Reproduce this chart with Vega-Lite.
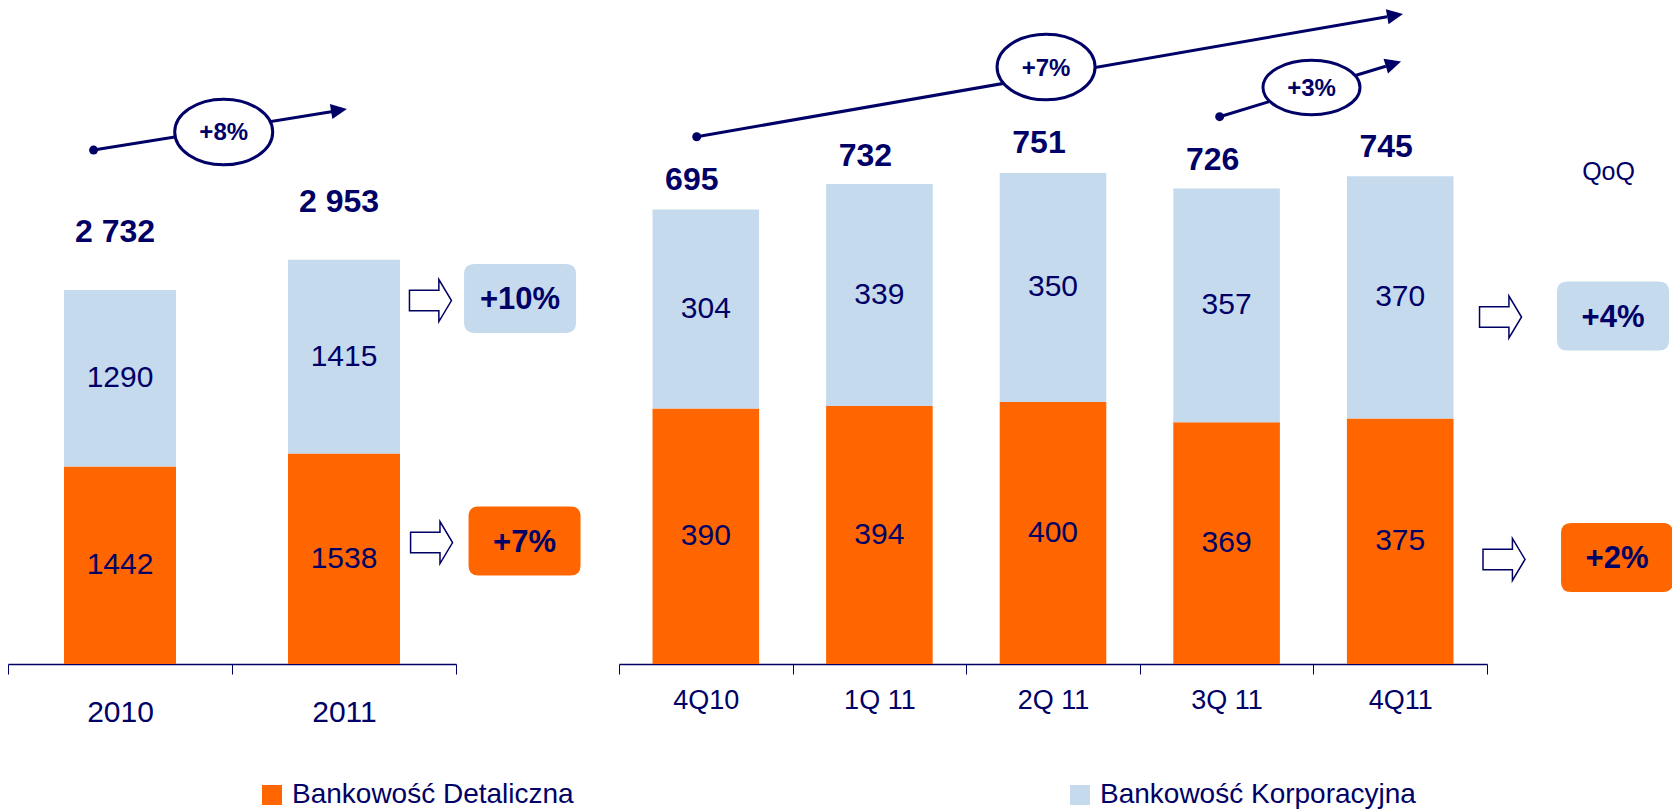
{
  "$schema": "https://vega.github.io/schema/vega-lite/v6.json",
  "padding": {"left": 7, "top": 0, "right": 0, "bottom": 0},
  "background": "white",
  "bounds": "flush",
  "spacing": 163,
  "config": {
    "view": {"stroke": null},
    "font": "Liberation Sans",
    "locale": {"number": {"decimal": ",", "thousands": " ", "grouping": [3], "currency": ["", " zł"]}},
    "axisX": {"title": null, "tickBand": "extent", "tickSize": 10, "tickColor": "#000066", "tickWidth": 1,
      "domainColor": "#000066", "domainWidth": 1.5, "labelColor": "#000066", "labelAngle": 0,
      "labelFont": "Liberation Sans", "grid": false}
  },
  "datasets": {
    "annual": [
      {"period": "2010", "segment": "Bankowość Detaliczna", "value": 1442},
      {"period": "2010", "segment": "Bankowość Korporacyjna", "value": 1290},
      {"period": "2011", "segment": "Bankowość Detaliczna", "value": 1538},
      {"period": "2011", "segment": "Bankowość Korporacyjna", "value": 1415}
    ],
    "annualTotals": [
      {"period": "2010", "total": 2732},
      {"period": "2011", "total": 2953}
    ],
    "quarterly": [
      {"period": "4Q10", "segment": "Bankowość Detaliczna", "value": 390},
      {"period": "4Q10", "segment": "Bankowość Korporacyjna", "value": 304},
      {"period": "1Q 11", "segment": "Bankowość Detaliczna", "value": 394},
      {"period": "1Q 11", "segment": "Bankowość Korporacyjna", "value": 339},
      {"period": "2Q 11", "segment": "Bankowość Detaliczna", "value": 400},
      {"period": "2Q 11", "segment": "Bankowość Korporacyjna", "value": 350},
      {"period": "3Q 11", "segment": "Bankowość Detaliczna", "value": 369},
      {"period": "3Q 11", "segment": "Bankowość Korporacyjna", "value": 357},
      {"period": "4Q11", "segment": "Bankowość Detaliczna", "value": 375},
      {"period": "4Q11", "segment": "Bankowość Korporacyjna", "value": 370}
    ],
    "quarterlyTotals": [
      {"period": "4Q10", "total": 695},
      {"period": "1Q 11", "total": 732},
      {"period": "2Q 11", "total": 751},
      {"period": "3Q 11", "total": 726},
      {"period": "4Q11", "total": 745}
    ]
  },
  "hconcat": [
    {
      "width": 448,
      "height": 664,
      "resolve": {"scale": {"x": "independent"}},
      "layer": [
        {
          "layer": [
            {
              "data": {"name": "annual"},
              "mark": {"type": "bar", "width": {"band": 0.5}},
              "encoding": {
                "x": {"field": "period", "type": "nominal", "sort": null,
                  "scale": {"domain": ["2010", "2011"], "paddingInner": 0, "paddingOuter": 0},
                  "axis": {"labelFontSize": 30, "labelPadding": 23}},
                "y": {"field": "value", "type": "quantitative", "stack": "zero",
                  "scale": {"domain": [0, 4850], "nice": false, "zero": true}, "axis": null},
                "color": {"field": "segment", "type": "nominal",
                  "scale": {"domain": ["Bankowość Detaliczna", "Bankowość Korporacyjna"], "range": ["#FF6600", "#C6DAEE"]},
                  "legend": {"orient": "none", "legendX": 250, "legendY": 781, "direction": "horizontal", "title": null,
                    "symbolType": "square", "symbolSize": 400, "symbolStrokeWidth": 0, "symbolOpacity": 1,
                    "labelFontSize": 28, "labelColor": "#000066", "labelFont": "Liberation Sans", "labelLimit": 600,
                    "labelOffset": 6, "columnPadding": 492, "padding": 0}},
                "order": {"field": "segment", "sort": "ascending"}
              }
            },
            {
              "data": {"name": "annual"},
              "transform": [
                {"stack": "value", "groupby": ["period"], "sort": [{"field": "segment", "order": "ascending"}], "as": ["v0", "v1"]},
                {"calculate": "(datum.v0 + datum.v1) / 2", "as": "vmid"}
              ],
              "mark": {"type": "text", "fontSize": 30, "color": "#000066", "baseline": "middle", "align": "center"},
              "encoding": {
                "x": {"field": "period", "type": "nominal", "sort": null,
                  "axis": {"labelFontSize": 30, "labelPadding": 23}},
                "y": {"field": "vmid", "type": "quantitative"},
                "text": {"field": "value", "type": "quantitative", "format": "d"}
              }
            },
            {
              "data": {"name": "annualTotals"},
              "mark": {"type": "text", "fontSize": 32, "fontWeight": "bold", "color": "#000066", "baseline": "middle", "align": "center", "dy": -58, "dx": -5},
              "encoding": {
                "x": {"field": "period", "type": "nominal", "sort": null,
                  "axis": {"labelFontSize": 30, "labelPadding": 23}},
                "y": {"field": "total", "type": "quantitative"},
                "text": {"field": "total", "type": "quantitative", "format": ",d"}
              }
            }
          ]
        },
        {
          "layer": [
            {
              "data": {"values": [{"change": "+8%"}]},
              "layer": [
                {
                  "mark": {"type": "rule", "color": "#000066", "strokeWidth": 3},
                  "encoding": {
                    "x": {"datum": 0.382, "type": "quantitative", "scale": {"domain": [0, 2], "nice": false, "zero": false}, "axis": null},
                    "x2": {"datum": 1.45},
                    "y": {"datum": 3754, "type": "quantitative"},
                    "y2": {"datum": 4035}
                  }
                },
                {
                  "mark": {"type": "point", "shape": "circle", "size": 80, "filled": true, "color": "#000066", "opacity": 1},
                  "encoding": {
                    "x": {"datum": 0.382, "type": "quantitative", "axis": null},
                    "y": {"datum": 3754, "type": "quantitative"}
                  }
                },
                {
                  "mark": {"type": "point", "shape": "M0,0L-1,-0.48L-1,0.48Z", "size": 1024, "filled": true, "color": "#000066", "opacity": 1, "angle": 350.8},
                  "encoding": {
                    "x": {"datum": 1.513, "type": "quantitative", "axis": null},
                    "y": {"datum": 4054, "type": "quantitative"}
                  }
                },
                {
                  "mark": {"type": "point", "shape": "M-1,0C-1,-0.37,-0.552,-0.67,0,-0.67C0.552,-0.67,1,-0.37,1,0C1,0.37,0.552,0.67,0,0.67C-0.552,0.67,-1,0.37,-1,0Z", "size": 9604, "filled": true, "fill": "white", "stroke": "#000066", "strokeWidth": 3, "opacity": 1},
                  "encoding": {
                    "x": {"datum": 0.963, "type": "quantitative", "axis": null},
                    "y": {"datum": 3886, "type": "quantitative"}
                  }
                },
                {
                  "mark": {"type": "text", "fontSize": 24, "fontWeight": "bold", "color": "#000066", "baseline": "middle", "align": "center"},
                  "encoding": {
                    "x": {"datum": 0.963, "type": "quantitative", "axis": null},
                    "y": {"datum": 3878, "type": "quantitative"},
                    "text": {"field": "change", "type": "nominal"}
                  }
                }
              ]
            },
            {
              "data": {"values": [{"segment": "Bankowość Korporacyjna", "change": "+10%"}]},
              "layer": [
                {
                  "mark": {"type": "point", "shape": "M-1,-0.49L0.4,-0.49L0.4,-1L1,0L0.4,1L0.4,0.49L-1,0.49Z", "size": 1764, "filled": true, "fill": "white", "stroke": "#000066", "strokeWidth": 1.5, "opacity": 1},
                  "encoding": {
                    "x": {"datum": 1.886, "type": "quantitative", "axis": null},
                    "y": {"datum": 2655, "type": "quantitative"}
                  }
                },
                {
                  "mark": {"type": "point", "shape": "M-0.82,-0.616L0.82,-0.616Q1,-0.616,1,-0.436L1,0.436Q1,0.616,0.82,0.616L-0.82,0.616Q-1,0.616,-1,0.436L-1,-0.436Q-1,-0.616,-0.82,-0.616Z", "size": 12544, "filled": true, "opacity": 1, "strokeWidth": 0},
                  "encoding": {
                    "x": {"datum": 2.286, "type": "quantitative", "axis": null},
                    "y": {"datum": 2670, "type": "quantitative"},
                    "color": {"field": "segment", "type": "nominal"}
                  }
                },
                {
                  "mark": {"type": "text", "fontSize": 31, "fontWeight": "bold", "color": "#000066", "baseline": "middle", "align": "center"},
                  "encoding": {
                    "x": {"datum": 2.286, "type": "quantitative", "axis": null},
                    "y": {"datum": 2657, "type": "quantitative"},
                    "text": {"field": "change", "type": "nominal"}
                  }
                }
              ]
            },
            {
              "data": {"values": [{"segment": "Bankowość Detaliczna", "change": "+7%"}]},
              "layer": [
                {
                  "mark": {"type": "point", "shape": "M-1,-0.49L0.4,-0.49L0.4,-1L1,0L0.4,1L0.4,0.49L-1,0.49Z", "size": 1764, "filled": true, "fill": "white", "stroke": "#000066", "strokeWidth": 1.5, "opacity": 1},
                  "encoding": {
                    "x": {"datum": 1.891, "type": "quantitative", "axis": null},
                    "y": {"datum": 887, "type": "quantitative"}
                  }
                },
                {
                  "mark": {"type": "point", "shape": "M-0.82,-0.616L0.82,-0.616Q1,-0.616,1,-0.436L1,0.436Q1,0.616,0.82,0.616L-0.82,0.616Q-1,0.616,-1,0.436L-1,-0.436Q-1,-0.616,-0.82,-0.616Z", "size": 12544, "filled": true, "opacity": 1, "strokeWidth": 0},
                  "encoding": {
                    "x": {"datum": 2.306, "type": "quantitative", "axis": null},
                    "y": {"datum": 898, "type": "quantitative"},
                    "color": {"field": "segment", "type": "nominal"}
                  }
                },
                {
                  "mark": {"type": "text", "fontSize": 31, "fontWeight": "bold", "color": "#000066", "baseline": "middle", "align": "center"},
                  "encoding": {
                    "x": {"datum": 2.306, "type": "quantitative", "axis": null},
                    "y": {"datum": 885, "type": "quantitative"},
                    "text": {"field": "change", "type": "nominal"}
                  }
                }
              ]
            }
          ]
        }
      ]
    },
    {
      "width": 868,
      "height": 664,
      "resolve": {"scale": {"x": "independent"}},
      "layer": [
        {
          "layer": [
            {
              "data": {"name": "quarterly"},
              "mark": {"type": "bar", "width": {"band": 0.614}},
              "encoding": {
                "x": {"field": "period", "type": "nominal", "sort": null,
                  "scale": {"domain": ["4Q10", "1Q 11", "2Q 11", "3Q 11", "4Q11"], "paddingInner": 0, "paddingOuter": 0},
                  "axis": {"labelFontSize": 27, "labelPadding": 13}},
                "y": {"field": "value", "type": "quantitative", "stack": "zero",
                  "scale": {"domain": [0, 1014], "nice": false, "zero": true}, "axis": null},
                "color": {"field": "segment", "type": "nominal"},
                "order": {"field": "segment", "sort": "ascending"}
              }
            },
            {
              "data": {"name": "quarterly"},
              "transform": [
                {"stack": "value", "groupby": ["period"], "sort": [{"field": "segment", "order": "ascending"}], "as": ["v0", "v1"]},
                {"calculate": "(datum.v0 + datum.v1) / 2", "as": "vmid"}
              ],
              "mark": {"type": "text", "fontSize": 30, "color": "#000066", "baseline": "middle", "align": "center"},
              "encoding": {
                "x": {"field": "period", "type": "nominal", "sort": null,
                  "axis": {"labelFontSize": 27, "labelPadding": 13}},
                "y": {"field": "vmid", "type": "quantitative"},
                "text": {"field": "value", "type": "quantitative", "format": "d"}
              }
            },
            {
              "data": {"name": "quarterlyTotals"},
              "mark": {"type": "text", "fontSize": 32, "fontWeight": "bold", "color": "#000066", "baseline": "middle", "align": "center", "dy": -29, "dx": -14},
              "encoding": {
                "x": {"field": "period", "type": "nominal", "sort": null,
                  "axis": {"labelFontSize": 27, "labelPadding": 13}},
                "y": {"field": "total", "type": "quantitative"},
                "text": {"field": "total", "type": "quantitative", "format": "d"}
              }
            }
          ]
        },
        {
          "layer": [
            {
              "data": {"values": [{"change": "+7%"}]},
              "layer": [
                {
                  "mark": {"type": "rule", "color": "#000066", "strokeWidth": 3},
                  "encoding": {
                    "x": {"datum": 0.4476, "type": "quantitative", "scale": {"domain": [0, 5], "nice": false, "zero": false}, "axis": null},
                    "x2": {"datum": 4.425},
                    "y": {"datum": 805.2, "type": "quantitative"},
                    "y2": {"datum": 988.5}
                  }
                },
                {
                  "mark": {"type": "point", "shape": "circle", "size": 80, "filled": true, "color": "#000066", "opacity": 1},
                  "encoding": {
                    "x": {"datum": 0.4476, "type": "quantitative", "axis": null},
                    "y": {"datum": 805.2, "type": "quantitative"}
                  }
                },
                {
                  "mark": {"type": "point", "shape": "M0,0L-1,-0.48L-1,0.48Z", "size": 1024, "filled": true, "color": "#000066", "opacity": 1, "angle": 350.1},
                  "encoding": {
                    "x": {"datum": 4.516, "type": "quantitative", "axis": null},
                    "y": {"datum": 992.6, "type": "quantitative"}
                  }
                },
                {
                  "mark": {"type": "point", "shape": "M-1,0C-1,-0.37,-0.552,-0.67,0,-0.67C0.552,-0.67,1,-0.37,1,0C1,0.37,0.552,0.67,0,0.67C-0.552,0.67,-1,0.37,-1,0Z", "size": 9604, "filled": true, "fill": "white", "stroke": "#000066", "strokeWidth": 3, "opacity": 1},
                  "encoding": {
                    "x": {"datum": 2.46, "type": "quantitative", "axis": null},
                    "y": {"datum": 911.7, "type": "quantitative"}
                  }
                },
                {
                  "mark": {"type": "text", "fontSize": 24, "fontWeight": "bold", "color": "#000066", "baseline": "middle", "align": "center"},
                  "encoding": {
                    "x": {"datum": 2.46, "type": "quantitative", "axis": null},
                    "y": {"datum": 908, "type": "quantitative"},
                    "text": {"field": "change", "type": "nominal"}
                  }
                }
              ]
            },
            {
              "data": {"values": [{"change": "+3%"}]},
              "layer": [
                {
                  "mark": {"type": "rule", "color": "#000066", "strokeWidth": 3},
                  "encoding": {
                    "x": {"datum": 3.46, "type": "quantitative", "axis": null},
                    "x2": {"datum": 4.417},
                    "y": {"datum": 835.8, "type": "quantitative"},
                    "y2": {"datum": 912.9}
                  }
                },
                {
                  "mark": {"type": "point", "shape": "circle", "size": 80, "filled": true, "color": "#000066", "opacity": 1},
                  "encoding": {
                    "x": {"datum": 3.46, "type": "quantitative", "axis": null},
                    "y": {"datum": 835.8, "type": "quantitative"}
                  }
                },
                {
                  "mark": {"type": "point", "shape": "M0,0L-1,-0.48L-1,0.48Z", "size": 1024, "filled": true, "color": "#000066", "opacity": 1, "angle": 343.1},
                  "encoding": {
                    "x": {"datum": 4.505, "type": "quantitative", "axis": null},
                    "y": {"datum": 920, "type": "quantitative"}
                  }
                },
                {
                  "mark": {"type": "point", "shape": "M-1,0C-1,-0.309,-0.552,-0.56,0,-0.56C0.552,-0.56,1,-0.309,1,0C1,0.309,0.552,0.56,0,0.56C-0.552,0.56,-1,0.309,-1,0Z", "size": 9409, "filled": true, "fill": "white", "stroke": "#000066", "strokeWidth": 3, "opacity": 1},
                  "encoding": {
                    "x": {"datum": 3.989, "type": "quantitative", "axis": null},
                    "y": {"datum": 880.4, "type": "quantitative"}
                  }
                },
                {
                  "mark": {"type": "text", "fontSize": 24, "fontWeight": "bold", "color": "#000066", "baseline": "middle", "align": "center"},
                  "encoding": {
                    "x": {"datum": 3.989, "type": "quantitative", "axis": null},
                    "y": {"datum": 878.2, "type": "quantitative"},
                    "text": {"field": "change", "type": "nominal"}
                  }
                }
              ]
            },
            {
              "data": {"values": [{"label": "QoQ"}]},
              "mark": {"type": "text", "fontSize": 25, "color": "#000066", "baseline": "middle", "align": "center"},
              "encoding": {
                "x": {"datum": 5.7, "type": "quantitative", "axis": null},
                "y": {"datum": 750.6, "type": "quantitative"},
                "text": {"field": "label", "type": "nominal"}
              }
            },
            {
              "data": {"values": [{"segment": "Bankowość Korporacyjna", "change": "+4%"}]},
              "layer": [
                {
                  "mark": {"type": "point", "shape": "M-1,-0.49L0.4,-0.49L0.4,-1L1,0L0.4,1L0.4,0.49L-1,0.49Z", "size": 1764, "filled": true, "fill": "white", "stroke": "#000066", "strokeWidth": 1.5, "opacity": 1},
                  "encoding": {
                    "x": {"datum": 5.078, "type": "quantitative", "axis": null},
                    "y": {"datum": 529.9, "type": "quantitative"}
                  }
                },
                {
                  "mark": {"type": "point", "shape": "M-0.82,-0.616L0.82,-0.616Q1,-0.616,1,-0.436L1,0.436Q1,0.616,0.82,0.616L-0.82,0.616Q-1,0.616,-1,0.436L-1,-0.436Q-1,-0.616,-0.82,-0.616Z", "size": 12544, "filled": true, "opacity": 1, "strokeWidth": 0},
                  "encoding": {
                    "x": {"datum": 5.726, "type": "quantitative", "axis": null},
                    "y": {"datum": 531.4, "type": "quantitative"},
                    "color": {"field": "segment", "type": "nominal"}
                  }
                },
                {
                  "mark": {"type": "text", "fontSize": 31, "fontWeight": "bold", "color": "#000066", "baseline": "middle", "align": "center"},
                  "encoding": {
                    "x": {"datum": 5.726, "type": "quantitative", "axis": null},
                    "y": {"datum": 528.7, "type": "quantitative"},
                    "text": {"field": "change", "type": "nominal"}
                  }
                }
              ]
            },
            {
              "data": {"values": [{"segment": "Bankowość Detaliczna", "change": "+2%"}]},
              "layer": [
                {
                  "mark": {"type": "point", "shape": "M-1,-0.49L0.4,-0.49L0.4,-1L1,0L0.4,1L0.4,0.49L-1,0.49Z", "size": 1764, "filled": true, "fill": "white", "stroke": "#000066", "strokeWidth": 1.5, "opacity": 1},
                  "encoding": {
                    "x": {"datum": 5.098, "type": "quantitative", "axis": null},
                    "y": {"datum": 159.6, "type": "quantitative"}
                  }
                },
                {
                  "mark": {"type": "point", "shape": "M-0.82,-0.616L0.82,-0.616Q1,-0.616,1,-0.436L1,0.436Q1,0.616,0.82,0.616L-0.82,0.616Q-1,0.616,-1,0.436L-1,-0.436Q-1,-0.616,-0.82,-0.616Z", "size": 12544, "filled": true, "opacity": 1, "strokeWidth": 0},
                  "encoding": {
                    "x": {"datum": 5.749, "type": "quantitative", "axis": null},
                    "y": {"datum": 162.6, "type": "quantitative"},
                    "color": {"field": "segment", "type": "nominal"}
                  }
                },
                {
                  "mark": {"type": "text", "fontSize": 31, "fontWeight": "bold", "color": "#000066", "baseline": "middle", "align": "center"},
                  "encoding": {
                    "x": {"datum": 5.749, "type": "quantitative", "axis": null},
                    "y": {"datum": 159.9, "type": "quantitative"},
                    "text": {"field": "change", "type": "nominal"}
                  }
                }
              ]
            }
          ]
        }
      ]
    }
  ]
}
